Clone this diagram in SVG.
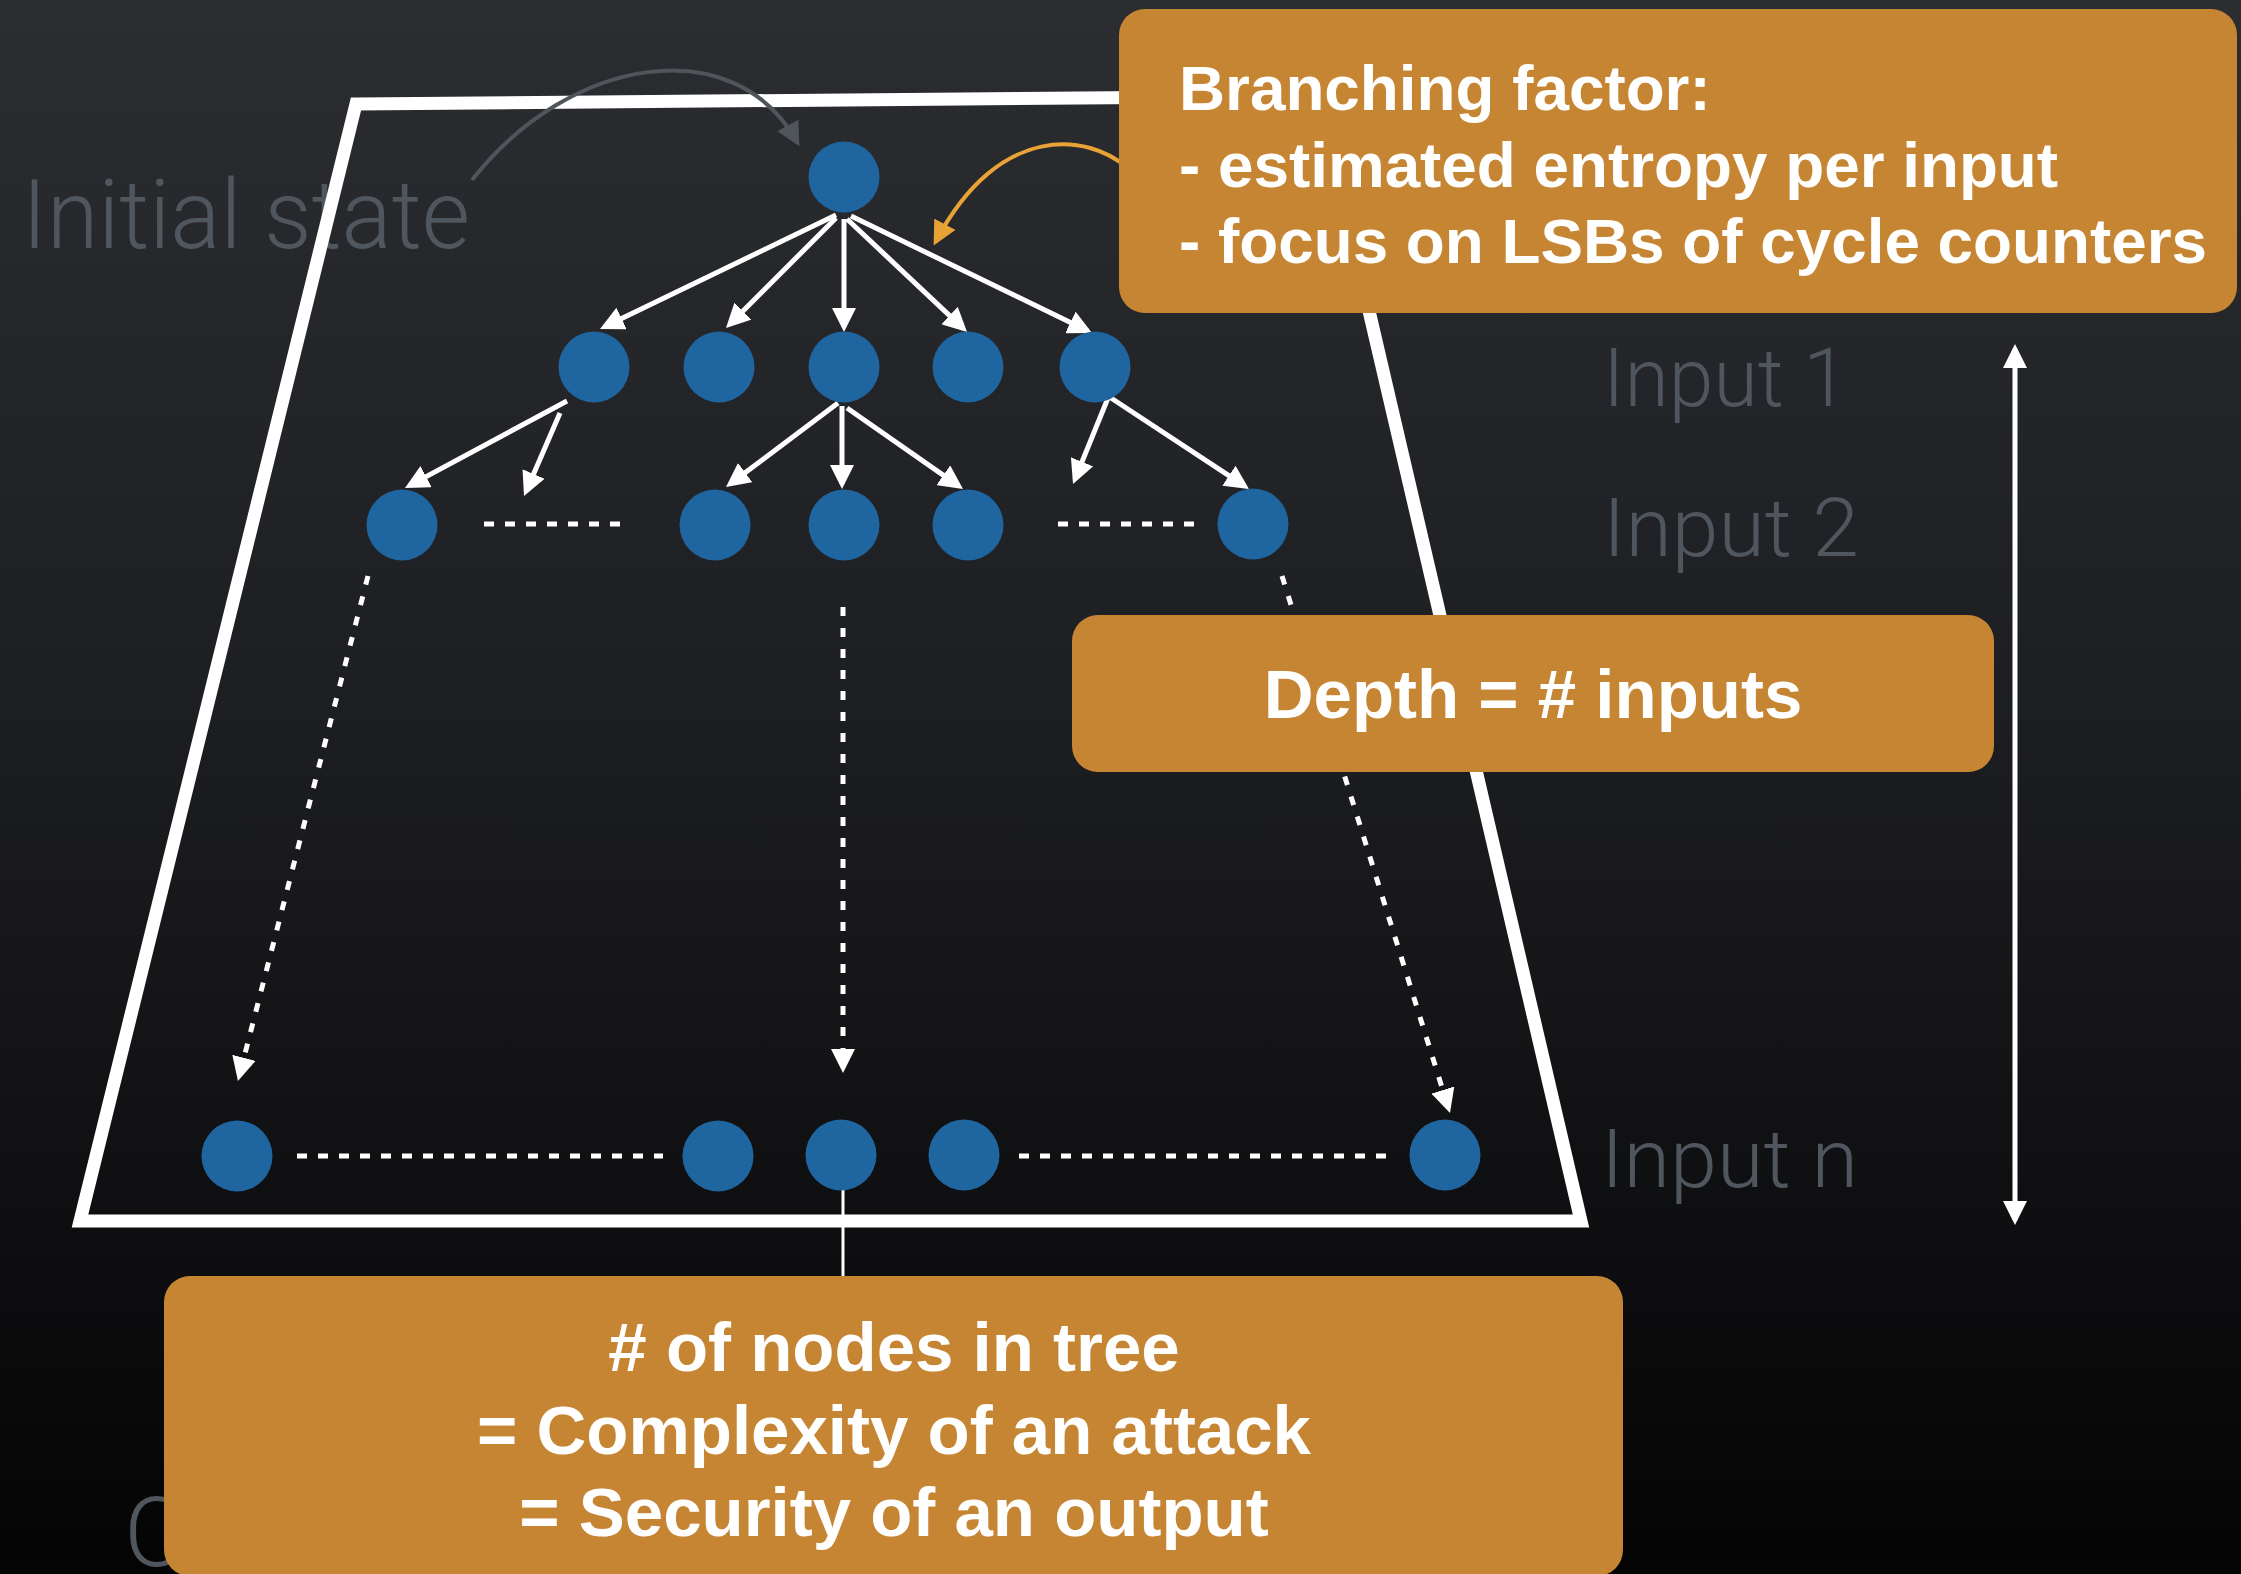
<svg xmlns="http://www.w3.org/2000/svg" width="2241" height="1574" viewBox="0 0 2241 1574">
  <defs>
    <linearGradient id="bg" x1="0" y1="0" x2="0" y2="1">
      <stop offset="0" stop-color="#2b2d31"/>
      <stop offset="0.45" stop-color="#1d1e21"/>
      <stop offset="1" stop-color="#040405"/>
    </linearGradient>
    <marker id="head" viewBox="0 0 24 24" refX="19" refY="12" markerWidth="24" markerHeight="24" markerUnits="userSpaceOnUse" orient="auto">
      <path d="M0,0 L24,12 L0,24 Z" fill="#ffffff"/>
    </marker>
    <marker id="head2" viewBox="0 0 24 24" refX="19" refY="12" markerWidth="24" markerHeight="24" markerUnits="userSpaceOnUse" orient="auto-start-reverse">
      <path d="M0,0 L24,12 L0,24 Z" fill="#ffffff"/>
    </marker>
    <marker id="headGray" viewBox="0 0 24 24" refX="19" refY="12" markerWidth="24" markerHeight="24" markerUnits="userSpaceOnUse" orient="auto">
      <path d="M0,0 L24,12 L0,24 Z" fill="#50555c"/>
    </marker>
    <marker id="headOrange" viewBox="0 0 24 24" refX="19" refY="12" markerWidth="24" markerHeight="24" markerUnits="userSpaceOnUse" orient="auto">
      <path d="M0,0 L24,12 L0,24 Z" fill="#e9a235"/>
    </marker>
  </defs>
  <style>
    .label { font-family: Roboto, "Liberation Sans", sans-serif; font-weight: 300; fill: #50565e; }
    .boxtext { font-family: "Liberation Sans", Arial, sans-serif; font-weight: bold; fill: #ffffff; }
    .box { fill: #c58533; }
    .node { fill: #1f65a0; }
    .edge { stroke: #ffffff; stroke-width: 5; fill: none; marker-end: url(#head); }
    .dashed { stroke: #ffffff; stroke-width: 5; fill: none; stroke-dasharray: 9 12; marker-end: url(#head); }
    .dots { stroke: #ffffff; stroke-width: 5; fill: none; stroke-dasharray: 10 11; }
  </style>

  <!-- backdrop -->
  <rect x="0" y="0" width="2241" height="1574" fill="url(#bg)"/>

  <!-- side labels -->
  <g id="labels">
    <text class="label" x="22" y="248" font-size="97" textLength="448" lengthAdjust="spacingAndGlyphs">Initial state</text>
    <text class="label" x="1603" y="406" font-size="82" textLength="245" lengthAdjust="spacingAndGlyphs">Input 1</text>
    <text class="label" x="1603" y="556" font-size="82" textLength="256" lengthAdjust="spacingAndGlyphs">Input 2</text>
    <text class="label" x="1601" y="1187" font-size="82" textLength="257" lengthAdjust="spacingAndGlyphs">Input n</text>
    <text class="label" x="124" y="1566" font-size="97">C</text>
  </g>

  <!-- tree outline -->
  <polygon id="outline" points="356,104 1319,96 1581,1221 80,1221" fill="none" stroke="#ffffff" stroke-width="13" stroke-linejoin="miter"/>

  <!-- connectors -->
  <g id="connectors">
    <!-- label pointers -->
    <path d="M472,180 C570,55 735,30 797,142" stroke="#50555c" stroke-width="4" fill="none" marker-end="url(#headGray)"/>
    <path d="M1126,167 C1090,135 1000,120 936,241" stroke="#e9a235" stroke-width="4" fill="none" marker-end="url(#headOrange)"/>

    <!-- root to level 1 -->
    <line class="edge" x1="836" y1="215" x2="604.5" y2="326.8"/>
    <line class="edge" x1="836" y1="218" x2="729.5" y2="324.5"/>
    <line class="edge" x1="844" y1="219" x2="844" y2="327"/>
    <line class="edge" x1="847" y1="219" x2="963.4" y2="328.6"/>
    <line class="edge" x1="851" y1="216" x2="1087.5" y2="330.8"/>

    <!-- level 1 to level 2 -->
    <line class="edge" x1="567" y1="401" x2="409.4" y2="485.6"/>
    <line class="edge" x1="560" y1="413" x2="526" y2="491.4"/>
    <line class="edge" x1="838" y1="403" x2="730" y2="484"/>
    <line class="edge" x1="842" y1="406" x2="842" y2="484"/>
    <line class="edge" x1="847" y1="408" x2="958.9" y2="486.1"/>
    <line class="edge" x1="1108" y1="398" x2="1074.9" y2="479.4"/>
    <line class="edge" x1="1111" y1="398" x2="1244.8" y2="486.2"/>

    <!-- omitted siblings -->
    <line class="dots" x1="484" y1="524" x2="624" y2="524"/>
    <line class="dots" x1="1058" y1="524" x2="1198" y2="524"/>
    <line class="dots" x1="297" y1="1156" x2="663" y2="1156"/>
    <line class="dots" x1="1019" y1="1156" x2="1392" y2="1156"/>

    <!-- deeper levels -->
    <line class="dashed" x1="368" y1="576" x2="239.2" y2="1076.2"/>
    <line class="dashed" x1="843" y1="607" x2="843" y2="1068"/>
    <line class="dashed" x1="1282" y1="576" x2="1448.5" y2="1108.2"/>

    <!-- leaf to summary box -->
    <line x1="843" y1="1190" x2="843" y2="1278" stroke="#ffffff" stroke-width="3"/>

    <!-- depth scale -->
    <line x1="2015" y1="349" x2="2015" y2="1220" stroke="#ffffff" stroke-width="5" marker-start="url(#head2)" marker-end="url(#head2)"/>
  </g>

  <!-- nodes -->
  <g id="root"><circle class="node" cx="844" cy="177" r="35.5"/></g>
  <g id="level1">
    <circle class="node" cx="594" cy="367" r="35.5"/>
    <circle class="node" cx="719" cy="367" r="35.5"/>
    <circle class="node" cx="844" cy="367" r="35.5"/>
    <circle class="node" cx="968" cy="367" r="35.5"/>
    <circle class="node" cx="1095" cy="367" r="35.5"/>
  </g>
  <g id="level2">
    <circle class="node" cx="402" cy="525" r="35.5"/>
    <circle class="node" cx="715" cy="525" r="35.5"/>
    <circle class="node" cx="844" cy="525" r="35.5"/>
    <circle class="node" cx="968" cy="525" r="35.5"/>
    <circle class="node" cx="1253" cy="524" r="35.5"/>
  </g>
  <g id="leaves">
    <circle class="node" cx="237" cy="1156" r="35.5"/>
    <circle class="node" cx="718" cy="1156" r="35.5"/>
    <circle class="node" cx="841" cy="1155" r="35.5"/>
    <circle class="node" cx="964" cy="1155" r="35.5"/>
    <circle class="node" cx="1445" cy="1155" r="35.5"/>
  </g>

  <!-- callouts -->
  <g id="branching">
    <rect class="box" x="1119" y="9" width="1118" height="304" rx="26"/>
    <text class="boxtext" x="1179" y="110" font-size="63.8">Branching factor:</text>
    <text class="boxtext" x="1179" y="187" font-size="63.8">- estimated entropy per input</text>
    <text class="boxtext" x="1179" y="263" font-size="63.8">- focus on LSBs of cycle counters</text>
  </g>
  <g id="depth">
    <rect class="box" x="1072" y="615" width="922" height="157" rx="26"/>
    <text class="boxtext" x="1533" y="718" font-size="69" text-anchor="middle">Depth = # inputs</text>
  </g>
  <g id="summary">
    <rect class="box" x="164" y="1276" width="1459" height="300" rx="26"/>
    <text class="boxtext" x="894" y="1371" font-size="69" text-anchor="middle"># of nodes in tree</text>
    <text class="boxtext" x="894" y="1454" font-size="69" text-anchor="middle">= Complexity of an attack</text>
    <text class="boxtext" x="894" y="1536" font-size="69" text-anchor="middle">= Security of an output</text>
  </g>
</svg>
